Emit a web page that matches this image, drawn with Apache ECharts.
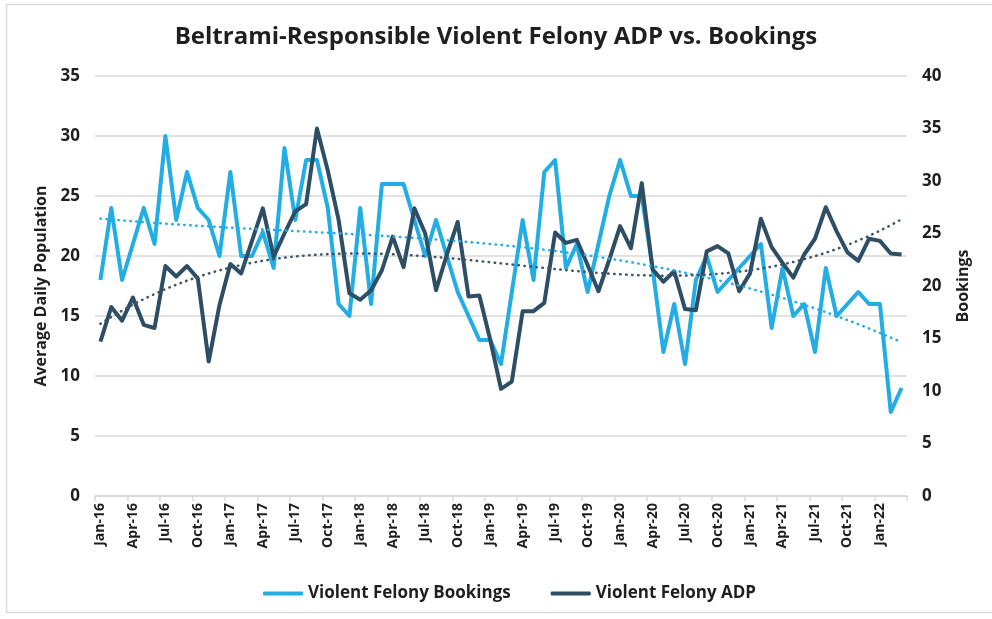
<!DOCTYPE html>
<html lang="en">
<head>
    <meta charset="UTF-8">
    <title>Beltrami-Responsible Violent Felony ADP vs. Bookings</title>
    <script src="https://cdn.jsdelivr.net/npm/echarts@6/dist/echarts.min.js"></script>
    <style>
    html, body { padding: 0; margin: 0; width: 100%; height: 100%; background: #fff; }
    #chart { width: 992px; height: 619px; }
    </style>
</head>
<body>
    <div id="chart"></div>
    <script type="text/javascript">
        // months Jan-16 .. Mar-22
        var monthNames = ['Jan','Feb','Mar','Apr','May','Jun','Jul','Aug','Sep','Oct','Nov','Dec'];
        var months = [];
        for (var y = 16; y <= 22; y++) {
            for (var m = 0; m < 12; m++) {
                if (y == 22 && m > 2) break;
                months.push(monthNames[m] + '-' + y);
            }
        }

        // Violent Felony Bookings (left axis)
        var bookings = [18,24,18,21,24,21,30,23,27,24,23,20,
                        27,20,20,22,19,29,23,28,28,24,16,15,
                        24,16,26,26,26,23,20,23,20,17,15,13,
                        13,11,17,23,18,27,28,19,21,17,21,25,
                        28,25,25,19,12,16,11,18,20,17,18,19,
                        20,21,14,19,15,16,12,19,15,16,17,16,
                        16,7,9];

        // Violent Felony ADP (right axis)
        var adp = [14.7,18.0,16.7,18.9,16.3,16.0,21.9,20.9,21.9,20.7,12.8,18.2,
                   22.1,21.2,24.3,27.4,22.8,25.0,27.1,27.8,35.0,31.0,26.3,19.3,
                   18.7,19.6,21.5,24.7,21.8,27.4,25.0,19.6,23.0,26.1,19.0,19.1,
                   14.9,10.2,10.9,17.6,17.6,18.4,25.1,24.1,24.4,22.0,19.5,22.5,
                   25.7,23.6,29.8,21.6,20.4,21.4,17.8,17.7,23.3,23.8,23.1,19.5,
                   21.2,26.4,23.7,22.2,20.8,23.0,24.5,27.5,25.2,23.2,22.4,24.5,
                   24.3,23.1,23.0];

        // least squares polynomial trendline (like Excel's trendline)
        function trend(ys, degree) {
            var n = degree + 1, A = [], i, j, k;
            for (i = 0; i < n; i++) { A.push([]); for (j = 0; j <= n; j++) A[i].push(0); }
            for (k = 0; k < ys.length; k++) {
                var x = (k + 1) / ys.length;
                for (i = 0; i < n; i++) {
                    for (j = 0; j < n; j++) A[i][j] += Math.pow(x, i + j);
                    A[i][n] += ys[k] * Math.pow(x, i);
                }
            }
            for (i = 0; i < n; i++) {
                for (k = i + 1; k < n; k++) {
                    var f = A[k][i] / A[i][i];
                    for (j = i; j <= n; j++) A[k][j] -= f * A[i][j];
                }
            }
            var c = [];
            for (i = n - 1; i >= 0; i--) {
                var s = A[i][n];
                for (j = i + 1; j < n; j++) s -= A[i][j] * c[j];
                c[i] = s / A[i][i];
            }
            return ys.map(function (v, k) {
                var x = (k + 1) / ys.length, r = 0;
                for (i = 0; i < n; i++) r += c[i] * Math.pow(x, i);
                return +r.toFixed(3);
            });
        }

        var lightBlue = '#22ade4';
        var darkBlue = '#2e4e65';
        var txt = '#1f1f1f';
        var font = '"Open Sans", "DejaVu Sans", sans-serif';

        var chart = echarts.init(document.getElementById('chart'));
        var option = {
            animation: false,
            textStyle: { fontFamily: font },
            title: {
                text: 'Beltrami-Responsible Violent Felony ADP vs. Bookings',
                left: 'center', top: 20,
                textStyle: { color: txt, fontSize: 24, fontWeight: 'bold', fontFamily: font }
            },
            graphic: [{
                type: 'rect', silent: true,
                shape: { x: 6.5, y: 4.5, width: 1000, height: 608 },
                style: { fill: 'none', stroke: '#d9d9d9', lineWidth: 1.5 }
            }],
            legend: {
                data: ['Violent Felony Bookings', 'Violent Felony ADP'],
                left: 258, top: 580,
                icon: 'roundRect', itemWidth: 40, itemHeight: 4, itemGap: 40,
                textStyle: { color: txt, fontSize: 17, fontWeight: 'bold', fontFamily: font }
            },
            grid: { left: 95, right: 85, top: 76, bottom: 123 },
            xAxis: {
                type: 'category', data: months, boundaryGap: true,
                axisLine: { lineStyle: { color: '#d9d9d9', width: 1.5 } },
                axisTick: { show: true, interval: 2, length: 5, lineStyle: { color: '#d9d9d9', width: 1.5 } },
                axisLabel: { interval: 2, rotate: 90, margin: 7, color: txt, fontSize: 14, fontWeight: 'bold', fontFamily: font }
            },
            yAxis: [{
                type: 'value', min: 0, max: 35, interval: 5, position: 'left',
                name: 'Average Daily Population', nameLocation: 'middle', nameRotate: 90, nameGap: 43,
                nameTextStyle: { color: txt, fontSize: 16, fontWeight: 'bold', fontFamily: font },
                axisLine: { show: false }, axisTick: { show: false },
                splitLine: { lineStyle: { color: '#d9d9d9', width: 1.5 } },
                axisLabel: { margin: 15, color: txt, fontSize: 17, fontWeight: 'bold', fontFamily: font }
            }, {
                type: 'value', min: 0, max: 40, interval: 5, position: 'right',
                name: 'Bookings', nameLocation: 'middle', nameRotate: 90, nameGap: 48,
                nameTextStyle: { color: txt, fontSize: 16, fontWeight: 'bold', fontFamily: font },
                axisLine: { show: false }, axisTick: { show: false },
                splitLine: { show: false },
                axisLabel: { margin: 15, color: txt, fontSize: 17, fontWeight: 'bold', fontFamily: font }
            }],
            series: [{
                name: 'Violent Felony Bookings', type: 'line', yAxisIndex: 0,
                data: bookings, showSymbol: false, color: lightBlue,
                lineStyle: { width: 4, color: lightBlue, join: 'round' }
            }, {
                name: 'Violent Felony ADP', type: 'line', yAxisIndex: 1,
                data: adp, showSymbol: false, color: darkBlue,
                lineStyle: { width: 4, color: darkBlue, join: 'round' }
            }, {
                name: 'Bookings Trend', type: 'line', yAxisIndex: 0,
                data: trend(bookings, 3), showSymbol: false, silent: true,
                lineStyle: { width: 2.5, color: lightBlue, type: [0.5, 5.5], cap: 'round' }
            }, {
                name: 'ADP Trend', type: 'line', yAxisIndex: 1,
                data: trend(adp, 3), showSymbol: false, silent: true,
                lineStyle: { width: 2.5, color: '#3e5468', type: [0.5, 5.5], cap: 'round' }
            }]
        };
        chart.setOption(option);
    </script>
</body>
</html>
